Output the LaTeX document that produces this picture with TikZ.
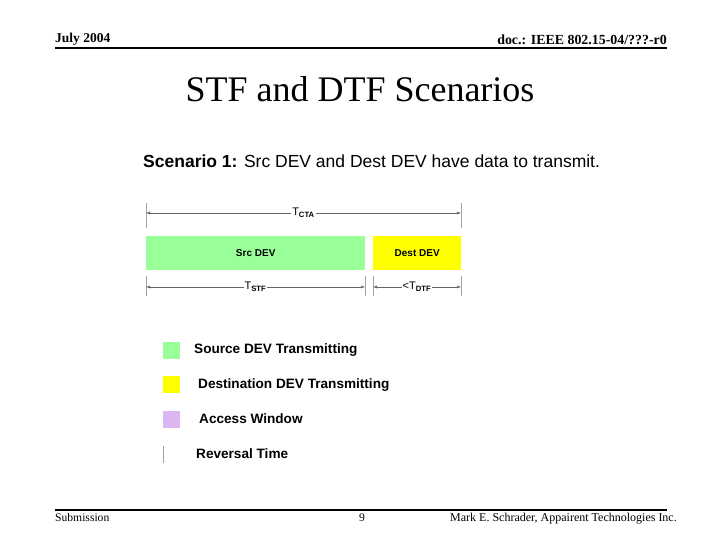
\documentclass[tikz,border=0pt]{standalone}
\usepackage{fontspec}
\setmainfont{Liberation Serif}
\setsansfont{Liberation Sans}
\usetikzlibrary{arrows.meta,positioning}
\definecolor{srcgreen}{RGB}{153,255,153}
\definecolor{destyellow}{RGB}{255,255,0}
\definecolor{accpurple}{RGB}{220,182,240}
\definecolor{dimgrey}{RGB}{100,100,100}

\begin{document}
\begin{tikzpicture}[x=1pt,y=-1pt,
    dimline/.style={dimgrey, line width=0.5pt, {Latex[length=4pt,width=3pt]}-{Latex[length=4pt,width=3pt]}},
    dimtick/.style={dimgrey!60, line width=0.5pt},
    dimlabel/.style={fill=white, text=black, inner sep=1pt, font=\sffamily\fontsize{11}{12}\selectfont},
    slot/.style={inner sep=0pt, anchor=north west, font=\sffamily\bfseries\fontsize{10}{11}\selectfont},
    keybox/.style={minimum size=17pt, inner sep=0pt, anchor=north west},
    keytext/.style={anchor=west, inner sep=0pt, font=\sffamily\bfseries\fontsize{13.6}{15}\selectfont}]
    \useasboundingbox (0,0) rectangle (720,540);

    % Header
    \node[anchor=base west, inner sep=0pt, font=\bfseries\fontsize{13.5}{15}\selectfont] (date) at (55,43) {July 2004};
    \node[anchor=base east, inner sep=0pt, font=\bfseries\fontsize{13.9}{15}\selectfont] (doc) at (667,45) {doc.: IEEE 802.15-04/???-r0};
    \draw[line width=2pt] (55,48) -- (667,48);
    \node[font=\fontsize{36}{40}\selectfont] (title) at (360,89) {STF and DTF Scenarios};

    % Scenario text
    \node[anchor=west, inner sep=0pt, font=\sffamily\fontsize{17.5}{20}\selectfont] (scen) at (143,161)
        {\textbf{Scenario 1:} Src DEV and Dest DEV have data to transmit.};

    % Slots
    \node[slot, fill=srcgreen, minimum width=219pt, minimum height=34pt] (src) at (146,236) {Src DEV};
    \node[slot, fill=destyellow, minimum width=88pt, minimum height=34pt] (dest) at (373,236) {Dest DEV};

    % Dimension ticks
    \coordinate (tl) at (146,203);
    \coordinate (tr) at (461,203);
    \draw[dimtick] (tl) -- ++(0,25);
    \draw[dimtick] (tr) -- ++(0,25);
    \draw[dimtick] (src.south west) ++(0,6) -- ++(0,20);
    \draw[dimtick] (src.south east) ++(0,6) -- ++(0,20);
    \draw[dimtick] (dest.south west) ++(0,6) -- ++(0,20);
    \draw[dimtick] (dest.south east) ++(0,6) -- ++(0,20);

    % Dimension arrows
    \coordinate (ctaL) at (146,213);
    \coordinate (ctaR) at (461,213);
    \draw[dimline] (ctaL) -- node[dimlabel] (tcta) {T\textsubscript{\bfseries CTA}} (ctaR);
    \coordinate (stfL) at (146,287);
    \coordinate (stfR) at (365,287);
    \draw[dimline] (stfL) -- node[dimlabel] (tstf) {T\textsubscript{\bfseries STF}} (stfR);
    \coordinate (dtfL) at (373,287);
    \coordinate (dtfR) at (461,287);
    \draw[dimline] (dtfL) -- node[dimlabel] (tdtf) {<T\textsubscript{\bfseries DTF}} (dtfR);

    % Legend
    \node[keybox, fill=srcgreen] (k1) at (163,342) {};
    \node[keytext] (l1) at (194,350) {Source DEV Transmitting};
    \node[keybox, fill=destyellow] (k2) at (163,376) {};
    \node[keytext] (l2) at (198,385) {Destination DEV Transmitting};
    \node[keybox, fill=accpurple] (k3) at (163,411) {};
    \node[keytext] (l3) at (199,419) {Access Window};
    \node[keybox, fill=white] (k4) at (163,446) {};
    \draw[dimtick] (k4.north west) -- (k4.south west);
    \node[keytext] (l4) at (196,454) {Reversal Time};

    % Footer
    \draw[line width=1.5pt] (55,510) -- (667,510);
    \node[anchor=base west, inner sep=0pt, font=\fontsize{11.6}{13}\selectfont] (sub) at (55,521) {Submission};
    \node[anchor=base, inner sep=0pt, font=\fontsize{11.6}{13}\selectfont] (page) at (362,521) {9};
    \node[anchor=base east, inner sep=0pt, font=\fontsize{12}{13}\selectfont] (auth) at (677,521) {Mark E. Schrader, Appairent Technologies Inc.};
\end{tikzpicture}
\end{document}
